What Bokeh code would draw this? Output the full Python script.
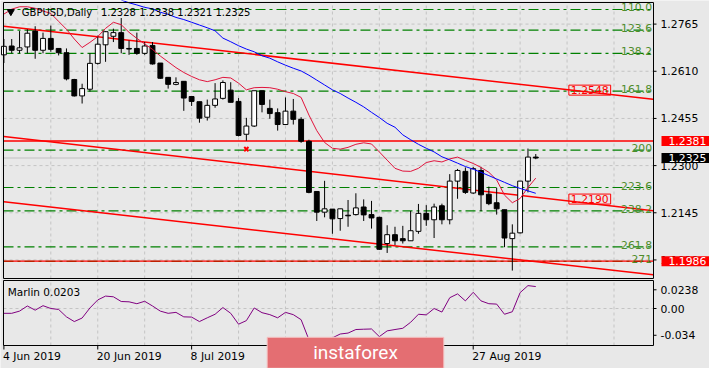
from bokeh.plotting import figure
from bokeh.models import Range1d, Label, ColumnDataSource
from bokeh.core.properties import value
from bokeh.embed import file_html
from bokeh.resources import INLINE

# ---------------- data ----------------
symbol_text = "GBPUSD,Daily"
ohlc_text = "1.2328 1.2338 1.2321 1.2325"

opens = [1.2664, 1.2693, 1.2679, 1.2690, 1.2742, 1.2679, 1.2718, 1.2685, 1.2671, 1.2583,
         1.2529, 1.2551, 1.2636, 1.2697, 1.2725, 1.2737, 1.2685, 1.2685, 1.2669, 1.2695,
         1.2637, 1.2590, 1.2567, 1.2577, 1.2527, 1.2510, 1.2459, 1.2498, 1.2521, 1.2548,
         1.2511, 1.2403, 1.2430, 1.2546, 1.2488, 1.2474, 1.2435, 1.2479, 1.2452, 1.2380,
         1.2215, 1.2147, 1.2157, 1.2126, 1.2137, 1.2139, 1.2164, 1.2139, 1.2130, 1.2044,
         1.2073, 1.2060, 1.2053, 1.2084, 1.2143, 1.2122, 1.2168, 1.2122, 1.2249, 1.2281,
         1.2210, 1.2284, 1.2206, 1.2178, 1.2155, 1.2060, 1.2079, 1.2249, 1.2328]
highs = [1.2716, 1.2716, 1.2742, 1.2748, 1.2758, 1.2737, 1.2760, 1.2685, 1.2685, 1.2585,
         1.2569, 1.2669, 1.2727, 1.2742, 1.2750, 1.2785, 1.2711, 1.2737, 1.2706, 1.2706,
         1.2637, 1.2590, 1.2590, 1.2577, 1.2527, 1.2510, 1.2517, 1.2571, 1.2580, 1.2574,
         1.2522, 1.2457, 1.2546, 1.2546, 1.2517, 1.2488, 1.2524, 1.2519, 1.2459, 1.2385,
         1.2215, 1.2250, 1.2157, 1.2158, 1.2187, 1.2209, 1.2189, 1.2184, 1.2132, 1.2104,
         1.2099, 1.2102, 1.2151, 1.2174, 1.2170, 1.2175, 1.2175, 1.2272, 1.2289, 1.2294,
         1.2296, 1.2296, 1.2231, 1.2227, 1.2155, 1.2107, 1.2249, 1.2356, 1.2338]
lows = [1.2637, 1.2669, 1.2669, 1.2669, 1.2651, 1.2669, 1.2674, 1.2662, 1.2580, 1.2527,
        1.2504, 1.2543, 1.2632, 1.2641, 1.2706, 1.2669, 1.2664, 1.2664, 1.2664, 1.2632,
        1.2585, 1.2553, 1.2564, 1.2480, 1.2496, 1.2441, 1.2448, 1.2490, 1.2517, 1.2508,
        1.2396, 1.2382, 1.2427, 1.2475, 1.2454, 1.2415, 1.2435, 1.2435, 1.2375, 1.2209,
        1.2118, 1.2130, 1.2076, 1.2086, 1.2099, 1.2136, 1.2118, 1.2093, 1.2023, 1.2013,
        1.2039, 1.2044, 1.2053, 1.2076, 1.2102, 1.2062, 1.2107, 1.2107, 1.2191, 1.2207,
        1.2207, 1.2151, 1.2170, 1.2139, 1.2032, 1.1955, 1.2077, 1.2212, 1.2321]
closes = [1.2692, 1.2679, 1.2687, 1.2735, 1.2679, 1.2718, 1.2682, 1.2671, 1.2585, 1.2529,
          1.2553, 1.2636, 1.2699, 1.2740, 1.2737, 1.2685, 1.2683, 1.2669, 1.2693, 1.2634,
          1.2587, 1.2567, 1.2573, 1.2522, 1.2511, 1.2456, 1.2498, 1.2519, 1.2573, 1.2508,
          1.2399, 1.2430, 1.2546, 1.2501, 1.2471, 1.2435, 1.2479, 1.2452, 1.2380, 1.2212,
          1.2147, 1.2158, 1.2125, 1.2158, 1.2135, 1.2161, 1.2138, 1.2128, 1.2025, 1.2073,
          1.2053, 1.2053, 1.2086, 1.2143, 1.2122, 1.2164, 1.2122, 1.2249, 1.2284, 1.2212,
          1.2290, 1.2204, 1.2175, 1.2158, 1.2062, 1.2078, 1.2249, 1.2328, 1.2325]

ma_fast = [1.2798, 1.2814, 1.2822, 1.2822, 1.2817, 1.2808, 1.2800, 1.2774, 1.2748, 1.2716,
           1.2688, 1.2705, 1.2724, 1.2751, 1.2771, 1.2763, 1.2738, 1.2718, 1.2700, 1.2682,
           1.2660, 1.2641, 1.2622, 1.2606, 1.2593, 1.2582, 1.2576, 1.2582, 1.2590, 1.2588,
           1.2571, 1.2549, 1.2556, 1.2557, 1.2556, 1.2551, 1.2543, 1.2537, 1.2524, 1.2466,
           1.2415, 1.2376, 1.2357, 1.2354, 1.2360, 1.2370, 1.2375, 1.2371, 1.2345, 1.2318,
           1.2291, 1.2282, 1.2281, 1.2291, 1.2310, 1.2316, 1.2312, 1.2322, 1.2328, 1.2317,
           1.2307, 1.2294, 1.2278, 1.2253, 1.2203, 1.2178, 1.2192, 1.2228, 1.2259]

ma_slow_start = 15
ma_slow = [1.2844, 1.2835, 1.2828, 1.2820, 1.2815, 1.2804, 1.2797, 1.2787, 1.2780,
           1.2771, 1.2762, 1.2753, 1.2743, 1.2719, 1.2707, 1.2694, 1.2683, 1.2674, 1.2661,
           1.2653, 1.2641, 1.2630, 1.2620, 1.2611, 1.2597, 1.2581, 1.2565, 1.2549, 1.2537,
           1.2522, 1.2508, 1.2493, 1.2475, 1.2458, 1.2439, 1.2426, 1.2401, 1.2385, 1.2370,
           1.2357, 1.2345, 1.2329, 1.2319, 1.2308, 1.2297, 1.2288, 1.2278, 1.2267, 1.2256,
           1.2245, 1.2234, 1.2225, 1.2217, 1.2209]

marlin = [-0.0061, -0.0061, -0.0033, 0.0032, -0.0021, 0.0036, 0.0000, -0.0012, -0.0106, -0.0166,
          -0.0121, 0.0007, 0.0109, 0.0158, 0.0149, 0.0089, 0.0085, 0.0061, 0.0092, 0.0032,
          -0.0033, -0.0061, -0.0049, -0.0106, -0.0109, -0.0166, -0.0118, -0.0073, 0.0012, -0.0061,
          -0.0199, -0.0154, 0.0007, -0.0053, -0.0078, -0.0118, -0.0049, -0.0078, -0.0142, -0.0397,
          -0.0433, -0.0446, -0.0373, -0.0324, -0.0312, -0.0267, -0.0263, -0.0260, -0.0357, -0.0284,
          -0.0267, -0.0251, -0.0175, -0.0073, -0.0081, 0.0000, -0.0045, 0.0137, 0.0186, 0.0097,
          0.0206, 0.0097, 0.0061, 0.0056, -0.0073, -0.0041, 0.0202, 0.0291, 0.0279]
marlin_label = "Marlin 0.0203"

fib_names = ["110.0", "123.6", "138.2", "161.8", "200", "223.6", "238.2", "261.8", "271"]
fib_prices = [1.2813, 1.2745, 1.2669, 1.2545, 1.2351, 1.2228, 1.2151, 1.2033, 1.1985]

channel_bars = [0, 83]
channel_upper = [1.2758, 1.2518]
channel_middle = [1.2396, 1.2152]
channel_lower = [1.2181, 1.1941]

red_levels = [1.2381, 1.1986]
last_price = 1.2325
marked_bar = [31]
marked_price = [1.2354]

boxed_values = ["1.2548", "1.2190"]
boxed_bar = 74.9

price_ticks = [1.1990, 1.2145, 1.2300, 1.2455, 1.2610, 1.2765]
marlin_ticks = [-0.034, 0.0, 0.0238]
marlin_tick_labels = ["-0.034", "0.00", "0.0238"]
grid_bars = [6, 12, 18, 24, 30, 36, 42, 48, 54, 60, 66, 72, 78]
date_bars = [0, 12, 24, 60]
date_labels = ["4 Jun 2019", "20 Jun 2019", "8 Jul 2019", "27 Aug 2019"]
brand = "instaforex"

# ---------------- layout geometry (canvas 709 x 368) ----------------
W, H = 709, 368
X0, X1 = -0.05, 83.05          # bar range of the chart panels (canvas x 3 .. 653)
PX_BAR = 650 / (X1 - X0)        # pixels per bar
P_TOP, P_BOT = 1.2836, 1.1929   # main panel price range (canvas y 2 .. 278)
KP = (P_TOP - P_BOT) / 276      # price per pixel
M_TOP, M_BOT = 0.0356, -0.047   # Marlin panel range (canvas y 280 .. 345)
KM = (M_TOP - M_BOT) / 65

BG = "#e8e8e8"
FONT = "DejaVu Sans"
FS = "10.8px"
GRID = "#c4c4c4"
FIBC = "#008000"
FIBT = "#4e8c2a"

p = figure(width=W, height=H, toolbar_location=None, output_backend="svg",
           x_range=Range1d(X0 - 3 / PX_BAR, X0 + (W - 3) / PX_BAR),
           y_range=Range1d(P_TOP - (H - 2) * KP, P_TOP + 2 * KP),
           x_axis_type=None, y_axis_type=None, min_border=0,
           background_fill_color=BG, border_fill_color=BG, outline_line_color=None)
p.extra_y_ranges = {"m": Range1d(M_BOT - (H - 345) * KM, M_TOP + 280 * KM)}
p.grid.visible = False

# ---------- grids ----------
p.segment(x0=grid_bars, x1=grid_bars, y0=[P_BOT] * len(grid_bars), y1=[P_TOP] * len(grid_bars),
          line_color=GRID, line_dash="3 3", line_width=1)
p.segment(x0=[X0] * len(price_ticks), x1=[X1] * len(price_ticks), y0=price_ticks, y1=price_ticks,
          line_color=GRID, line_dash="3 3", line_width=1)
p.segment(x0=grid_bars, x1=grid_bars, y0=[M_BOT] * len(grid_bars), y1=[M_TOP] * len(grid_bars),
          line_color=GRID, line_dash="3 3", line_width=1, y_range_name="m")
p.segment(x0=[X0], x1=[X1], y0=[0.0], y1=[0.0], line_color=GRID, line_dash="3 3",
          line_width=1, y_range_name="m")

# ---------- horizontal levels ----------
p.segment(x0=[X0], x1=[X1], y0=[last_price], y1=[last_price], line_color="#c0c0c0", line_width=1)
p.segment(x0=[X0] * len(fib_prices), x1=[X1] * len(fib_prices), y0=fib_prices, y1=fib_prices,
          line_color=FIBC, line_width=1.2, line_dash="10 4 3 4")
p.segment(x0=[X0] * len(red_levels), x1=[X1] * len(red_levels), y0=red_levels, y1=red_levels,
          line_color="#ff0000", line_width=1.4)

# ---------- channel ----------
for ys in (channel_upper, channel_middle, channel_lower):
    p.line(channel_bars, ys, line_color="#ff0000", line_width=1.5)

# ---------- candles ----------
bars = list(range(len(opens)))
src = ColumnDataSource(dict(
    x=bars, h=highs, l=lows,
    top=[max(o, c) for o, c in zip(opens, closes)],
    bottom=[min(o, c) for o, c in zip(opens, closes)],
    fill=["white" if c > o else "black" for o, c in zip(opens, closes)],
))
p.segment(x0="x", y0="l", x1="x", y1="h", source=src, line_color="black", line_width=1)
p.vbar(x="x", width=0.62, top="top", bottom="bottom", fill_color="fill",
       line_color="black", line_width=1, source=src)

# ---------- moving averages ----------
p.line(bars, ma_fast, line_color="#e0143c", line_width=1)
p.line(bars[ma_slow_start:], ma_slow, line_color="#0000ff", line_width=1)

p.scatter(marked_bar, marked_price, marker="x", size=6, line_color="#ff0000", line_width=2)

# ---------- panel frames & axes ----------
p.quad(left=[X0], right=[X1], bottom=[P_BOT], top=[P_TOP], fill_color=None,
       line_color="black", line_width=1)
p.quad(left=[X0], right=[X1], bottom=[M_BOT], top=[M_TOP], fill_color=None,
       line_color="black", line_width=1, y_range_name="m")

tick_len = 3 / PX_BAR
lab_x = X1 + 7 / PX_BAR
p.segment(x0=[X1] * len(price_ticks), x1=[X1 + tick_len] * len(price_ticks),
          y0=price_ticks, y1=price_ticks, line_color="black")
p.text(x=[lab_x] * len(price_ticks), y=price_ticks, text=[f"{t:.4f}" for t in price_ticks],
       text_font=value(FONT), text_font_size=value(FS), text_color="black",
       text_align="left", text_baseline="middle")
p.segment(x0=[X1] * len(marlin_ticks), x1=[X1 + tick_len] * len(marlin_ticks),
          y0=marlin_ticks, y1=marlin_ticks, line_color="black", y_range_name="m")
p.text(x=[lab_x] * len(marlin_ticks), y=marlin_ticks, text=marlin_tick_labels,
       text_font=value(FONT), text_font_size=value(FS), text_color="black",
       text_align="left", text_baseline="middle", y_range_name="m")

# date ticks & labels
p.segment(x0=date_bars, x1=date_bars, y0=[M_BOT] * len(date_bars),
          y1=[M_BOT - 4 * KM] * len(date_bars), line_color="black", y_range_name="m")
for b, t in zip(date_bars, date_labels):
    p.add_layout(Label(x=b, y=M_BOT - 10.7 * KM, x_offset=-1, text=t, text_font=FONT,
                       text_font_size=FS, text_color="black", text_align="left",
                       text_baseline="middle", y_range_name="m"))

# ---------- header ----------
p.scatter([0.89], [1.2806], marker="inverted_triangle", size=7, fill_color="black", line_color="black")
p.add_layout(Label(x=2.29, y=1.2803, text=symbol_text, text_font=FONT, text_font_size="10px",
                   text_color="black", text_baseline="middle", text_align="left"))
p.add_layout(Label(x=12.41, y=1.2803, text=ohlc_text, text_font=FONT, text_font_size="10px",
                   text_color="black", text_baseline="middle", text_align="left"))

# ---------- fibonacci labels ----------
for name, price in zip(fib_names, fib_prices):
    p.add_layout(Label(x=X1, y=price, x_offset=-1.5, y_offset=2, text=name,
                       text_font=FONT, text_font_size=FS, text_color=FIBT,
                       text_align="right", text_baseline="alphabetic"))

# ---------- boxed price labels ----------
for txt in boxed_values:
    p.add_layout(Label(x=boxed_bar, y=float(txt), text=txt, text_font=FONT, text_font_size=FS,
                       text_color="#ff0000", text_align="center", text_baseline="middle",
                       border_line_color="#ff0000", border_line_width=1,
                       background_fill_color=None, padding=(2, 1)))

for price, bg in ((red_levels[0], "#ff0000"), (last_price, "black"), (red_levels[1], "#ff0000")):
    p.add_layout(Label(x=X1, y=price, x_offset=8, text=f"{price:.4f}", text_font=FONT,
                       text_font_size=FS, text_color="white", text_align="left",
                       text_baseline="middle", background_fill_color=bg, padding=(7, 1)))

# ---------- Marlin ----------
p.line(bars, marlin, line_color="#800080", line_width=1, y_range_name="m")
p.add_layout(Label(x=0.49, y=0.0210, text=marlin_label, text_font=FONT, text_font_size="10.5px",
                   text_color="black", text_align="left", text_baseline="middle", y_range_name="m"))

# ---------- logo ----------
p.add_layout(Label(x=44.95, y=M_BOT - 7.3 * KM, text=brand, text_font="Roboto", text_font_size="19px",
                   text_color="white", text_align="center", text_baseline="middle",
                   background_fill_color="#e46e72", border_line_color="#f4c4c4",
                   border_line_width=1, padding=(46, 4), y_range_name="m"))

open("out.html", "w").write(file_html(p, INLINE))
